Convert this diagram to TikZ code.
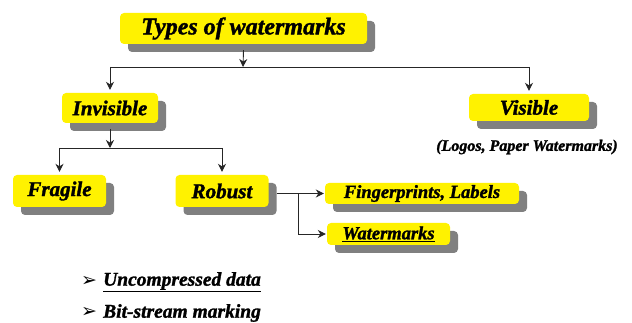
\documentclass[tikz,border=0pt]{standalone}
\usepackage{fontspec}
\setmainfont{Liberation Serif}[BoldItalicFeatures={FakeBold=1.5}]
\newfontfamily\dejavu{DejaVu Sans}
\usetikzlibrary{shadows,arrows.meta}
\begin{document}
\begin{tikzpicture}[x=1pt,y=-1pt,
  box/.style={fill=yellow, rounded corners=4pt, inner sep=0pt,
    drop shadow={shadow xshift=8pt, shadow yshift=-8pt, fill=gray, opacity=1, rounded corners=4pt}},
  fA/.style={font=\bfseries\itshape\fontsize{24}{24}\selectfont},
  fB/.style={font=\bfseries\itshape\fontsize{21}{21}\selectfont},
  fC/.style={font=\bfseries\itshape\fontsize{18.5}{18.5}\selectfont},
  fD/.style={font=\bfseries\itshape\fontsize{16}{16}\selectfont},
  fE/.style={font=\bfseries\itshape\fontsize{19.5}{19.5}\selectfont},
  bul/.style={font=\dejavu\fontsize{19}{19}\selectfont, inner sep=0pt},
  conn/.style={draw=black!85, line width=0.9pt},
  arr/.style={conn, -{Stealth[length=8pt,width=8pt]}, shorten >=3pt}]
\useasboundingbox (0,0) rectangle (632,323);
\node[box, fA, minimum width=247pt, minimum height=31pt] (title) at (243.5,28.5) {Types of watermarks};
\node[box, fB, minimum width=96pt, minimum height=30pt] (inv) at (110,108) {Invisible};
\node[box, fB, minimum width=120pt, minimum height=27pt] (vis) at (529,107.5) {Visible};
\node[fD, inner sep=0pt] (cap) at (527,147) {(Logos, Paper Watermarks)};
\node[box, fB, minimum width=93pt, minimum height=32pt] (frag) at (59.5,191) {Fragile};
\node[box, fB, minimum width=93pt, minimum height=32pt] (rob) at (222,191) {Robust};
\node[box, fC, minimum width=194pt, minimum height=21pt] (fp) at (422,193.5) {Fingerprints, Labels};
\node[box, fC, minimum width=123pt, minimum height=22pt] (wm) at (388.5,234) {\underline{Watermarks}};
\node[bul] (b1) at (89,281) {➢};
\node[fE, anchor=west, inner sep=0pt] (t1) at (103,282) {\underline{Uncompressed data}};
\node[bul] (b2) at (89,312) {➢};
\node[fE, anchor=west, inner sep=0pt] (t2) at (103,313) {Bit-stream marking};
% connectors
\coordinate (j1) at (243,67);
\coordinate (ts) at ([yshift=-6pt]title.south);
\draw[arr, shorten >=0pt] (ts) -- (j1);
\draw[conn] (inv.north |- j1) -- (vis.north |- j1);
\draw[arr] (inv.north |- j1) -- (inv.north);
\draw[arr] (vis.north |- j1) -- (vis.north);
\coordinate (j2) at (110,148);
\coordinate (is) at ([yshift=-6pt]inv.south);
\draw[arr, shorten >=0pt] (is) -- (j2);
\draw[conn] (frag.north |- j2) -- (rob.north |- j2);
\draw[arr] (frag.north |- j2) -- (frag.north);
\draw[arr] (rob.north |- j2) -- (rob.north);
\coordinate (rs) at ([xshift=8pt]rob.east);
\coordinate (j3) at (298,193.5);
\draw[arr, shorten >=1pt] (rs |- fp.west) -- (fp.west);
\draw[conn] (j3) -- (j3 |- wm.west);
\draw[arr, shorten >=1pt] (j3 |- wm.west) -- (wm.west);
\end{tikzpicture}
\end{document}
